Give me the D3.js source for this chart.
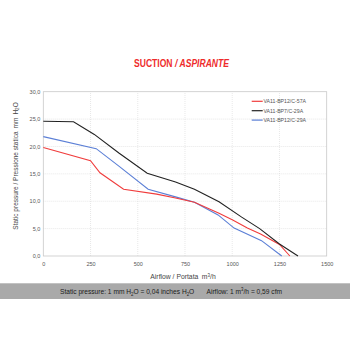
<!DOCTYPE html>
<html><head><meta charset="utf-8">
<script src="https://cdn.jsdelivr.net/npm/d3@7"></script>
<style>body{margin:0;background:#fff}svg{display:block;font-family:"Liberation Sans",Arial,sans-serif}</style>
</head><body><svg id="c" width="350" height="350"></svg>
<script>
const seriesNames = ["VA11-BP12/C-57A", "VA11-BP7/C-29A", "VA11-BP12/C-29A"];
const seriesColors = ["#f03c3c", "#222222", "#5b7fd6"];
const redFlow = [0, 250, 300, 425, 600, 700, 800, 930, 1000, 1080, 1150, 1250, 1305];
const redPres = [19.8, 17.4, 15.2, 12.2, 11.3, 10.6, 9.8, 7.8, 6.6, 5.1, 4.0, 2.1, 0];
const blackFlow = [0, 160, 270, 400, 550, 700, 800, 930, 1050, 1145, 1250, 1348];
const blackPres = [24.6, 24.5, 22.2, 18.8, 15.1, 13.5, 12.2, 9.9, 7.1, 5.0, 2.2, 0];
const blueFlow = [0, 280, 400, 555, 700, 800, 925, 1010, 1155, 1262];
const bluePres = [21.8, 19.6, 16.4, 12.2, 10.8, 9.8, 7.5, 5.1, 2.8, 0];
const xTicks = [0, 250, 500, 750, 1000, 1250, 1500];
const yTicks = [0, 5, 10, 15, 20, 25, 30];

const svg = d3.select("#c");
const x = d3.scaleLinear().domain([0, 1500]).range([43.3, 326.7]);
const y = d3.scaleLinear().domain([0, 30]).range([256, 91.7]);

// sequential rich text: separate text elements placed side by side
function rich(parent, parts, size, fill) {
  const g = parent.append("g");
  let cx = 0;
  parts.forEach(p => {
    if (p.gap) { cx += p.gap; return; }
    const el = g.append("text").attr("x", cx).attr("y", p.dy || 0)
      .attr("font-size", p.size || size).attr("fill", fill).text(p.t);
    if (p.bold) el.attr("font-weight", "bold");
    if (p.italic) el.attr("font-style", "italic");
    cx += el.node().getComputedTextLength();
  });
  return {g, width: cx};
}
function fit(r, x0, y0, w) {
  const s = w / r.width;
  r.g.attr("transform", `translate(${x0},${y0}) scale(${s},1)`);
}

// title
{
  const parts = [{t: "SUCTION", bold: true}, {gap: 3}, {t: "/ ASPIRANTE", bold: true, italic: true}];
  const r = rich(svg, parts, 10, "#ee2b2b");
  fit(r, 134, 67.3, 95);
}

// grid
const g = svg.append("g");
g.selectAll(".gx").data(xTicks.slice(1, -1)).join("line")
  .attr("x1", d => x(d)).attr("x2", d => x(d)).attr("y1", y(0)).attr("y2", y(30))
  .attr("stroke", "#d8d8d8").attr("stroke-width", 0.6).attr("stroke-dasharray", "1,1");
g.selectAll(".gy").data(yTicks.slice(1, -1)).join("line")
  .attr("x1", x(0)).attr("x2", x(1500)).attr("y1", d => y(d)).attr("y2", d => y(d))
  .attr("stroke", "#d8d8d8").attr("stroke-width", 0.6).attr("stroke-dasharray", "1,1");
svg.append("rect").attr("x", x(0)).attr("y", y(30)).attr("width", x(1500) - x(0)).attr("height", y(0) - y(30))
  .attr("fill", "none").attr("stroke", "#c8c8c8").attr("stroke-width", 0.8);

// axes
const fmt = d => d3.format(".1f")(d).replace(".", ",");
const ax = svg.append("g").attr("transform", `translate(0,${y(0)})`)
  .call(d3.axisBottom(x).tickValues(xTicks).tickFormat(d3.format("d")).tickSize(0).tickPadding(6));
ax.select(".domain").remove();
ax.selectAll("text").attr("font-size", 5.5).attr("fill", "#555").attr("font-family", "Liberation Sans, Arial, sans-serif");
const ay = svg.append("g").attr("transform", `translate(${x(0)},0)`)
  .call(d3.axisLeft(y).tickValues(yTicks).tickFormat(fmt).tickSize(0).tickPadding(3));
ay.select(".domain").remove();
ay.selectAll("text").attr("font-size", 5.5).attr("fill", "#555").attr("font-family", "Liberation Sans, Arial, sans-serif");

// x axis title
{
  const parts = [{t: "Airflow / Portata"}, {gap: 3.5}, {t: "m"}, {t: "3", size: 4.5, dy: -2.5}, {t: "/h"}];
  const r = rich(svg, parts, 6.8, "#444");
  r.g.attr("transform", `translate(${183 - r.width / 2},279)`);
}
// y axis title
{
  const parts = [{t: "Static pressure / Pressione statica"}, {gap: 3}, {t: "mm"}, {gap: 3}, {t: "H"}, {t: "2", size: 4.5, dy: 1.8}, {t: "O"}];
  const r = rich(svg, parts, 6.5, "#444");
  r.g.attr("transform", `translate(17.5,${166 + r.width / 2}) rotate(-90)`);
}

// lines
const series = [
  {f: redFlow, p: redPres},
  {f: blackFlow, p: blackPres},
  {f: blueFlow, p: bluePres}
];
const line = d3.line().x(d => x(d[0])).y(d => y(d[1]));
[2, 0, 1].forEach(i => {
  const s = series[i];
  svg.append("path").datum(s.f.map((v, j) => [v, s.p[j]]))
    .attr("d", line).attr("fill", "none").attr("stroke", seriesColors[i]).attr("stroke-width", 1.1);
});

// legend
seriesNames.forEach((n, i) => {
  const ly = 101.3 + i * 9.4;
  svg.append("line").attr("x1", 251.7).attr("x2", 262.7).attr("y1", ly).attr("y2", ly)
    .attr("stroke", seriesColors[i]).attr("stroke-width", 1.2);
  svg.append("text").attr("x", 263.5).attr("y", ly + 1.9).attr("font-size", 5.2).attr("fill", "#555").text(n);
});

// band
svg.append("rect").attr("x", 0).attr("y", 283.3).attr("width", 350).attr("height", 15.7).attr("fill", "#a9a9a9");
{
  const parts = [
    {t: "Static pressure: 1 mm H"}, {t: "2", size: 5, dy: 1.8}, {t: "O = 0,04 inches H"}, {t: "2", size: 5, dy: 1.8}, {t: "O"},
    {gap: 14},
    {t: "Airflow: 1 m"}, {t: "3", size: 5, dy: -3}, {t: "/h = 0,59 cfm"}
  ];
  const r = rich(svg, parts, 7.6, "#1a1a1a");
  fit(r, 60, 294, 222);
}
</script></body></html>
